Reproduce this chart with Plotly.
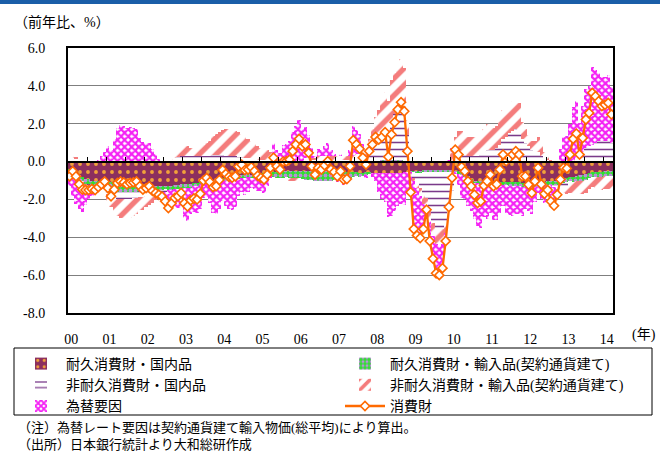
import plotly.graph_objects as go

# ---- data (monthly, Jan 2000 - Mar 2014), y/y %
months = [f"{y}-{m:02d}" for y in range(2000, 2015) for m in range(1, 13)][:171]
year_labels = ["00", "01", "02", "03", "04", "05", "06", "07", "08", "09", "10", "11", "12", "13", "14"]

consumer_goods = [
    -0.78, -0.51, -0.78, -1.2, -1.48, -1.5, -1.5, -1.45, -1.5, -1.35, -1.2, -1.05,
    -1.4, -1.83, -1.48, -1.13, -1.05, -1.1, -1.2, -1.13, -1.1, -1.05, -1.3, -1.48,
    -1.4, -1.3, -1.55, -1.66, -1.75, -1.85, -2.1, -2.45, -2.2, -1.92, -1.83, -1.66,
    -2.2, -2.37, -2.05, -1.95, -2.0, -1.7, -1.0, -0.87, -1.08, -1.35, -1.3, -0.97,
    -0.44, -0.65, -0.8, -0.85, -0.78, -0.26, -0.17, -0.45, -0.42, -0.3, -0.5, -0.75,
    -0.86, -0.95, -0.69, -0.33, 0.2, -0.25, -0.42, 0.0, 0.02, 0.1, 0.55, 0.9,
    1.2, 0.81, 0.9, 0.46, -0.25, -0.69, -0.33, -0.42, -0.2, 0.02, -0.42, -0.55,
    -0.78, -0.51, -0.95, -0.92, -0.25, 1.13, 0.9, 0.67, 0.2, -0.16, 0.55, 0.9,
    1.3, 1.16, 1.3, 1.55, 0.25, 1.43, 2.08, 2.75, 3.14, 2.66, 0.55, -1.62,
    -3.56, -3.9, -4.04, -3.56, -2.54, -4.2, -5.13, -5.9, -6.0, -5.63, -4.2, -2.4,
    -0.86, 0.63, 0.37, -0.28, -0.51, -1.04, -1.3, -1.75, -2.19, -2.1, -1.27, -1.04,
    -0.69, -1.3, -1.2, -0.42, 0.37, 0.02, 0.2, 0.37, 0.55, 0.37, -0.78, -0.78,
    -1.22, -1.66, -1.04, -0.33, -1.2, -1.7, -1.5, -2.1, -2.33, -1.75, -0.95, -0.33,
    -0.36, 0.37, 1.2, 1.48, 0.37, 1.25, 2.22, 2.57, 3.63, 3.45, 3.19, 2.93,
    3.0, 3.1, 2.49,
]

durable_domestic = [
    -0.4, -0.5, -0.6, -0.7, -0.8, -0.9, -0.9, -1.0, -1.0, -1.0, -1.0, -1.05,
    -1.1, -1.1, -1.15, -1.2, -1.2, -1.2, -1.2, -1.2, -1.2, -1.2, -1.2, -1.2,
    -1.2, -1.25, -1.3, -1.3, -1.3, -1.3, -1.3, -1.3, -1.3, -1.25, -1.25, -1.2,
    -1.2, -1.2, -1.2, -1.15, -1.15, -1.1, -1.1, -1.05, -1.0, -1.0, -1.0, -0.95,
    -0.9, -0.9, -0.85, -0.85, -0.8, -0.8, -0.75, -0.75, -0.7, -0.7, -0.7, -0.65,
    -0.65, -0.6, -0.6, -0.6, -0.55, -0.55, -0.55, -0.5, -0.5, -0.5, -0.5, -0.5,
    -0.5, -0.5, -0.5, -0.5, -0.5, -0.5, -0.5, -0.5, -0.5, -0.5, -0.5, -0.5,
    -0.5, -0.5, -0.5, -0.55, -0.55, -0.55, -0.55, -0.6, -0.6, -0.6, -0.6, -0.6,
    -0.6, -0.6, -0.6, -0.6, -0.6, -0.6, -0.6, -0.6, -0.6, -0.55, -0.55, -0.5,
    -0.5, -0.5, -0.5, -0.45, -0.45, -0.45, -0.45, -0.45, -0.45, -0.45, -0.45, -0.45,
    -0.45, -0.5, -0.55, -0.6, -0.7, -0.8, -0.9, -1.0, -1.0, -1.05, -1.1, -1.1,
    -1.1, -1.1, -1.1, -1.1, -1.1, -1.1, -1.1, -1.1, -1.1, -1.1, -1.15, -1.15,
    -1.15, -1.15, -1.15, -1.1, -1.1, -1.1, -1.05, -1.05, -1.0, -1.0, -0.95, -0.9,
    -0.85, -0.8, -0.8, -0.75, -0.7, -0.7, -0.65, -0.6, -0.55, -0.55, -0.55, -0.55,
    -0.5, -0.5, -0.5,
]

durable_import = [
    -0.1, -0.1, -0.15, -0.2, -0.25, -0.3, -0.3, -0.3, -0.3, -0.3, -0.3, -0.3,
    -0.3, -0.35, -0.35, -0.4, -0.4, -0.4, -0.4, -0.4, -0.4, -0.4, -0.35, -0.35,
    -0.3, -0.3, -0.3, -0.25, -0.25, -0.25, -0.2, -0.2, -0.2, -0.2, -0.2, -0.2,
    -0.2, -0.2, -0.2, -0.15, -0.15, -0.1, -0.1, -0.1, -0.1, -0.1, -0.1, -0.1,
    -0.1, -0.1, -0.1, -0.1, -0.1, -0.1, -0.1, -0.1, -0.1, -0.15, -0.15, -0.15,
    -0.15, -0.2, -0.2, -0.2, -0.25, -0.3, -0.3, -0.35, -0.35, -0.4, -0.4, -0.4,
    -0.4, -0.4, -0.45, -0.45, -0.45, -0.5, -0.5, -0.5, -0.5, -0.5, -0.5, -0.45,
    -0.45, -0.4, -0.35, -0.3, -0.3, -0.25, -0.2, -0.2, -0.15, -0.1, -0.05, 0.0,
    0.05, 0.05, 0.1, 0.1, 0.1, 0.1, 0.1, 0.1, 0.1, 0.05, 0.0, -0.05,
    -0.05, -0.1, -0.1, -0.1, -0.1, -0.1, -0.1, -0.1, -0.1, -0.1, -0.1, -0.1,
    -0.1, -0.1, -0.1, -0.1, -0.1, -0.1, -0.15, -0.15, -0.15, -0.15, -0.15, -0.15,
    -0.15, -0.15, -0.15, -0.15, -0.15, -0.15, -0.2, -0.2, -0.2, -0.2, -0.2, -0.2,
    -0.2, -0.2, -0.2, -0.2, -0.2, -0.2, -0.2, -0.2, -0.25, -0.25, -0.25, -0.25,
    -0.25, -0.25, -0.3, -0.3, -0.3, -0.3, -0.3, -0.25, -0.25, -0.25, -0.25, -0.25,
    -0.25, -0.25, -0.25,
]

nondurable_domestic = [
    0.2, 0.2, 0.15, 0.1, 0.1, 0.0, -0.1, -0.1, -0.1, -0.15, -0.2, -0.2,
    -0.3, -0.35, -0.4, -0.4, -0.4, -0.4, -0.4, -0.4, -0.35, -0.35, -0.3, -0.3,
    -0.3, -0.25, -0.2, -0.2, -0.15, -0.1, -0.1, 0.0, 0.1, 0.2, 0.25, 0.3,
    0.3, 0.3, 0.3, 0.3, 0.3, 0.3, 0.3, 0.3, 0.3, 0.35, 0.35, 0.35,
    0.35, 0.3, 0.3, 0.3, 0.3, 0.25, 0.25, 0.2, 0.2, 0.2, 0.15, 0.1,
    0.1, 0.1, 0.1, 0.1, 0.05, 0.0, 0.0, 0.0, 0.0, 0.0, 0.0, 0.0,
    0.0, 0.05, 0.1, 0.1, 0.1, 0.1, 0.1, 0.1, 0.1, 0.1, 0.1, 0.1,
    0.1, 0.1, 0.1, 0.1, 0.1, 0.1, 0.1, 0.1, 0.15, 0.2, 0.4, 0.6,
    0.9, 1.1, 1.4, 1.6, 1.3, 2.0, 2.4, 2.8, 3.3, 3.1, 1.4, 0.2,
    -0.3, -0.5, -0.8, -1.2, -1.4, -2.0, -2.7, -3.0, -3.1, -3.0, -2.6, -2.0,
    -1.0, 0.3, 0.4, 0.4, 0.4, 0.3, 0.3, 0.3, 0.3, 0.4, 0.5, 0.6,
    0.6, 0.6, 0.7, 0.9, 1.2, 1.3, 1.5, 1.6, 1.7, 1.6, 1.2, 1.0,
    0.8, 0.6, 0.5, 0.5, 0.3, 0.2, 0.1, 0.0, -0.1, -0.2, -0.2, -0.2,
    -0.2, -0.1, 0.0, 0.2, 0.3, 0.5, 0.7, 0.8, 0.9, 1.0, 1.1, 1.1,
    1.1, 1.1, 1.0,
]

nondurable_import = [
    0.1, 0.1, 0.1, 0.0, -0.1, -0.1, -0.1, -0.1, -0.1, -0.1, -0.1, -0.1,
    -0.5, -0.6, -0.8, -0.9, -1.0, -1.0, -1.0, -1.0, -0.9, -0.8, -0.7, -0.7,
    -0.6, -0.5, -0.4, -0.3, -0.2, -0.1, 0.0, 0.1, 0.2, 0.3, 0.4, 0.5,
    0.5, 0.5, 0.4, 0.4, 0.4, 0.5, 0.6, 0.7, 0.8, 1.0, 1.1, 1.2,
    1.3, 1.4, 1.4, 1.4, 1.3, 1.3, 1.2, 1.1, 1.0, 0.9, 0.8, 0.7,
    0.6, 0.6, 0.5, 0.4, 0.3, 0.2, 0.1, 0.0, -0.1, -0.1, -0.1, -0.1,
    -0.1, 0.0, 0.1, 0.1, 0.1, 0.1, 0.2, 0.2, 0.2, 0.2, 0.2, 0.2,
    0.2, 0.2, 0.2, 0.2, 0.2, 0.2, 0.3, 0.3, 0.4, 0.5, 0.8, 1.1,
    1.4, 1.6, 1.8, 2.0, 1.8, 2.2, 2.2, 2.2, 2.0, 1.8, 0.8, 0.0,
    -0.2, -0.3, -0.4, -0.5, -0.5, -0.6, -0.7, -0.8, -0.8, -0.8, -0.6, 0.0,
    0.5, 1.0, 1.2, 1.2, 1.1, 1.0, 1.0, 1.0, 0.9, 1.0, 1.2, 1.4,
    1.4, 1.2, 1.2, 1.4, 1.5, 1.4, 1.5, 1.6, 1.6, 1.5, 0.9, 0.7,
    0.6, 0.5, 0.6, 0.8, 0.5, 0.3, 0.2, 0.1, 0.0, -0.1, -0.2, -0.3,
    -0.4, -0.5, -0.6, -0.7, -0.7, -0.7, -0.7, -0.6, -0.55, -0.6, -0.7, -0.7,
    -0.7, -0.7, -0.7,
]

fx_factor = [
    -0.8, -1.2, -1.5, -1.6, -1.5, -1.0, -0.6, -0.3, -0.1, 0.1, 0.3, 0.5,
    0.8, 0.6, 1.2, 1.8, 1.95, 1.9, 1.8, 1.85, 1.75, 1.7, 1.25, 1.05,
    1.0, 1.0, 0.65, 0.4, 0.15, -0.1, -0.5, -1.05, -1.0, -0.95, -1.0, -1.05,
    -1.6, -1.75, -1.35, -1.35, -1.4, -1.3, -0.7, -0.7, -1.1, -1.6, -1.65, -1.45,
    -1.1, -1.35, -1.55, -1.6, -1.5, -0.9, -0.75, -0.9, -0.8, -0.55, -0.6, -0.75,
    -0.75, -0.85, -0.5, -0.05, 0.65, 0.4, 0.35, 0.85, 0.95, 1.1, 1.55, 1.9,
    2.2, 1.65, 1.65, 1.2, 0.5, 0.1, 0.35, 0.3, 0.5, 0.7, 0.3, 0.1,
    -0.15, 0.1, -0.4, -0.35, 0.3, 1.6, 1.25, 1.05, 0.4, -0.15, 0.0, -0.2,
    -0.45, -1.0, -1.4, -1.55, -2.35, -2.25, -2.0, -1.75, -1.65, -1.75, -1.1, -1.25,
    -2.5, -2.5, -2.25, -1.3, -0.1, -1.05, -1.2, -1.55, -1.55, -1.3, -0.45, 0.05,
    0.2, -0.05, -0.6, -1.2, -1.2, -1.45, -1.55, -1.9, -2.25, -2.3, -1.7, -1.8,
    -1.45, -1.85, -1.85, -1.45, -1.1, -1.45, -1.5, -1.55, -1.45, -1.45, -1.55, -1.15,
    -1.25, -1.4, -0.8, -0.35, -0.7, -0.9, -0.55, -0.95, -1.0, -0.2, 0.65, 1.3,
    1.35, 2.0, 2.9, 3.0, 1.75, 2.45, 3.15, 3.2, 4.1, 3.85, 3.6, 3.35,
    3.35, 3.45, 2.95,
]

y_ticks = [6, 4, 2, 0, -2, -4, -6, -8]
y_tick_text = ["6.0", "4.0", "2.0", "0.0", "-2.0", "-4.0", "-6.0", "-8.0"]

# ---- figure
FONT = "Liberation Serif, Noto Sans CJK JP, serif"
PW, PH, PL, PT = 545, 265, 68, 48          # plot area size / offsets in px
def px_x(p):  # pixel -> paper x
    return (p - PL) / PW
def px_y(p):  # pixel -> paper y
    return (PT + PH - p) / PH

xpos = list(range(len(months)))
jan_pos = [i + 0.5 for i, m in enumerate(months) if m.endswith("-01")]
half_year_ticks = [i - 0.5 for i, m in enumerate(months) if m.endswith("-07") or (m.endswith("-01") and i > 0)]

fig = go.Figure()

bar_specs = [
    ("耐久消費財・国内品", durable_domestic, "legend",
     dict(shape=".", bgcolor="#8C2F5E", fgcolor="#F2A23A", size=8, solidity=0.18)),
    ("耐久消費財・輸入品(契約通貨建て)", durable_import, "legend2",
     dict(shape=".", bgcolor="#2EE02E", fgcolor="#B98FD8", size=5, solidity=0.45)),
    ("非耐久消費財・国内品", nondurable_domestic, "legend",
     dict(shape="-", bgcolor="white", fgcolor="#7A3A8A", size=7, solidity=0.22)),
    ("非耐久消費財・輸入品(契約通貨建て)", nondurable_import, "legend2",
     dict(shape="/", bgcolor="white", fgcolor="#F47C7C", size=12, solidity=0.45)),
    ("為替要因", fx_factor, "legend",
     dict(shape="x", bgcolor="white", fgcolor="#F522F5", size=5, solidity=0.7)),
]
for name, vals, leg, pat in bar_specs:
    fig.add_trace(go.Bar(
        x=xpos, y=vals, name=name, legend=leg,
        marker=dict(color=pat["bgcolor"], line=dict(width=0), pattern=dict(fillmode="replace", **pat)),
        hoverinfo="skip",
    ))

fig.add_trace(go.Scatter(
    x=xpos, y=consumer_goods, name="消費財", mode="lines+markers", xaxis="x2", legend="legend2",
    line=dict(color="#FF6A00", width=2.3),
    marker=dict(symbol="diamond", size=7, color="white", line=dict(color="#FF6A00", width=1.6)),
    hoverinfo="skip",
))

legend_common = dict(
    orientation="v", yanchor="top", xanchor="left", bgcolor="rgba(0,0,0,0)", borderwidth=0,
    itemwidth=40, font=dict(family=FONT, size=14), tracegroupgap=0,
)
rng = [-0.5, len(months) - 0.5]
fig.update_layout(
    width=660, height=452,
    margin=dict(l=PL, r=660 - PL - PW, t=PT, b=452 - PT - PH, autoexpand=False),
    paper_bgcolor="white", plot_bgcolor="white",
    barmode="relative", bargap=0,
    font=dict(family=FONT, size=14, color="black"),
    showlegend=True,
    legend=dict(x=px_x(16), y=px_y(348), **legend_common),
    legend2=dict(x=px_x(340), y=px_y(348), **legend_common),
    xaxis=dict(
        range=rng, tickvals=jan_pos, ticktext=year_labels, ticks="",
        showgrid=False, zeroline=False, showline=True, mirror=True,
        linecolor="black", linewidth=2, ticklabelstandoff=12,
        tickfont=dict(family=FONT, size=14),
    ),
    xaxis2=dict(
        range=rng, overlaying="x", anchor="free", position=8 / 14, side="top",
        tickvals=half_year_ticks, ticks="outside", ticklen=4, tickcolor="black", tickwidth=1,
        showticklabels=False, showgrid=False, zeroline=False,
        showline=True, linecolor="black", linewidth=1.5, layer="above traces",
    ),
    yaxis=dict(
        range=[-8, 6], tickvals=y_ticks, ticktext=y_tick_text, ticks="",
        showgrid=True, gridcolor="#7F7F7F", gridwidth=1, zeroline=False,
        showline=True, mirror=True, linecolor="black", linewidth=2,
        ticklabelstandoff=18, tickfont=dict(family=FONT, size=14),
    ),
)

# top blue band
fig.add_shape(type="rect", xref="paper", yref="paper",
              x0=px_x(0), x1=px_x(660), y0=px_y(4), y1=px_y(-1),
              fillcolor="#1A5EA8", line=dict(width=0), layer="above")
# legend frame
fig.add_shape(type="rect", xref="paper", yref="paper",
              x0=px_x(14), x1=px_x(652), y0=px_y(415), y1=px_y(348),
              fillcolor="rgba(0,0,0,0)", line=dict(color="black", width=1), layer="above")

fig.add_annotation(text="（前年比、%）", xref="paper", yref="paper", x=px_x(12), y=px_y(22),
                   xanchor="left", yanchor="middle", showarrow=False, font=dict(family=FONT, size=14))
fig.add_annotation(text="(年)", xref="paper", yref="paper", x=px_x(630), y=px_y(335),
                   xanchor="left", yanchor="middle", showarrow=False, font=dict(family=FONT, size=14))
fig.add_annotation(text="（注）為替レート要因は契約通貨建て輸入物価(総平均)により算出。", xref="paper", yref="paper",
                   x=px_x(16), y=px_y(427), xanchor="left", yanchor="middle",
                   showarrow=False, font=dict(family=FONT, size=13))
fig.add_annotation(text="（出所）日本銀行統計より大和総研作成", xref="paper", yref="paper",
                   x=px_x(16), y=px_y(445), xanchor="left", yanchor="middle",
                   showarrow=False, font=dict(family=FONT, size=13))

fig.write_html("out.html", config={"displayModeBar": False},
               post_script="document.body.style.margin='0';document.body.style.padding='0';")
